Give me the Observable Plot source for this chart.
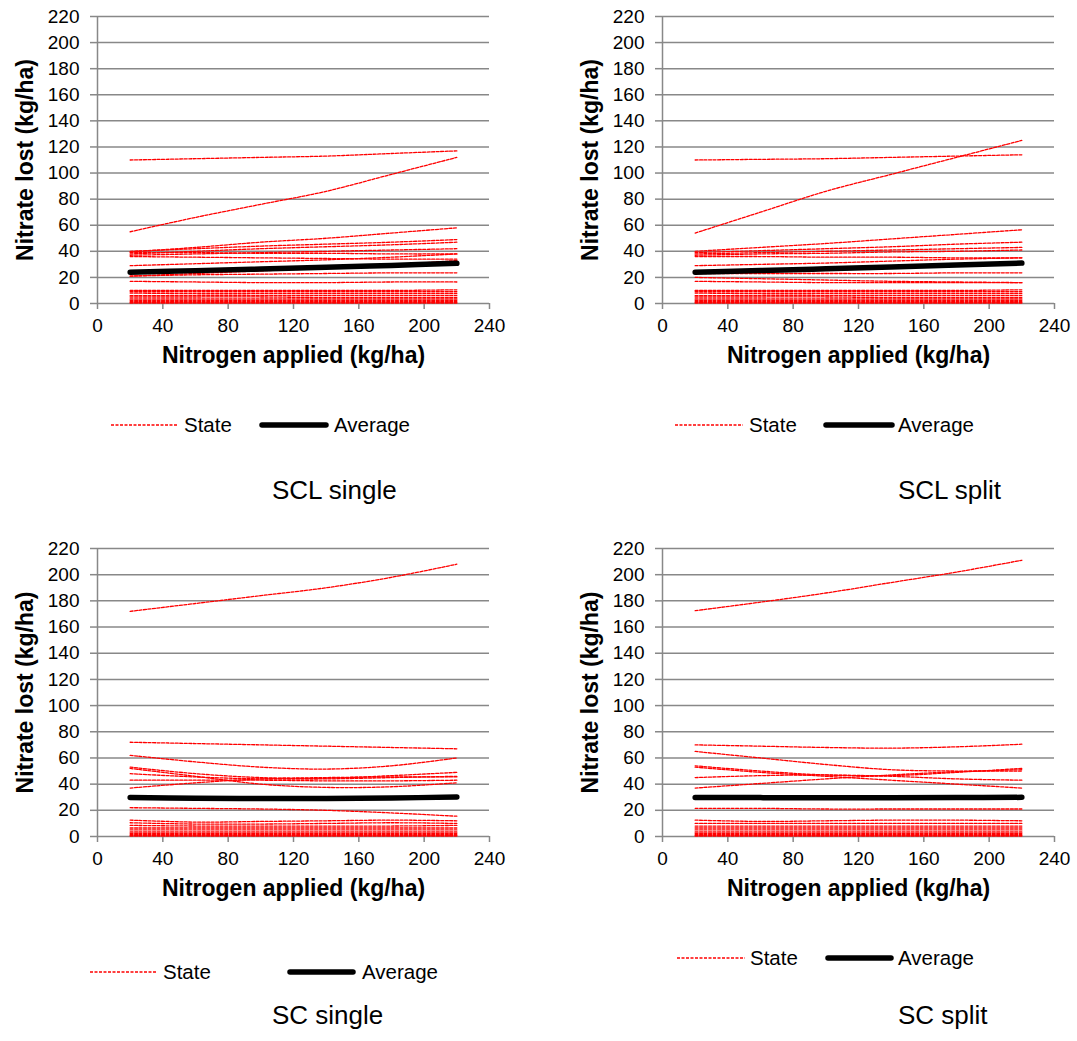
<!DOCTYPE html>
<html><head><meta charset="utf-8">
<script src="https://cdn.jsdelivr.net/npm/d3@7"></script>
<script src="https://cdn.jsdelivr.net/npm/@observablehq/plot@0.6"></script>
<style>
body{margin:0;background:#fff;font-family:"Liberation Sans",Arial,sans-serif;}
#root{position:relative;width:1077px;height:1041px;overflow:hidden;background:#fff}
.panel{position:absolute}
.leg{position:absolute;font-size:20.5px;color:#000;white-space:nowrap;line-height:1}
.title{position:absolute;font-size:26px;color:#000;white-space:nowrap;line-height:1}
.sw{position:absolute;overflow:visible}
</style></head><body><div id="root"></div>
<script>
// ---- data ----
const nitrogenApplied = [20, 60, 100, 140, 180, 220];
const xTicks = [0, 40, 80, 120, 160, 200, 240];
const yTicks = [0, 20, 40, 60, 80, 100, 120, 140, 160, 180, 200, 220];
const xLabel = "Nitrogen applied (kg/ha)";
const yLabel = "Nitrate lost (kg/ha)";
const legendLabels = ["State", "Average"];
const panelTitles = ["SCL single", "SCL split", "SC single", "SC split"];

const lowStates = [
  [10, 10, 10, 10, 10, 10.5],
  [9, 9, 9, 9, 9, 9],
  [8, 7.5, 7.5, 7.5, 7.5, 7.5],
  [6, 6, 6, 6, 6, 6],
  [5, 5, 5, 4.5, 4.5, 4.5],
  [3.5, 3.5, 3.5, 3.5, 3.5, 3.5],
  [2.5, 2.5, 2.5, 2.5, 2.5, 2.5],
  [1.5, 1.5, 1.5, 1.5, 1.5, 1.5],
  [0.8, 0.8, 0.8, 0.8, 0.8, 0.8],
  [0.3, 0.3, 0.3, 0.3, 0.3, 0.3]
];

const sclSingleStates = [
  [110, 111, 112, 113, 115, 117],
  [55, 66, 76, 86, 99, 112],
  [39.5, 43, 47, 50, 54, 58],
  [40, 42, 44, 45.5, 47, 49],
  [38, 40, 42, 43.5, 45, 47],
  [37, 38, 39, 40, 41, 42],
  [39, 39, 38.5, 38.5, 38, 38],
  [36, 35.5, 35, 34.5, 34, 34],
  [29, 30.5, 32, 33.5, 35.5, 38],
  [21, 23, 25, 27, 29.5, 33],
  [21, 22, 22.5, 23, 23.5, 23.5],
  [17, 16.5, 16, 16, 16.5, 16.5],
  ...lowStates
];
const sclSingleAverage = [24, 25.2, 26.4, 27.7, 29.2, 30.8];

const sclSplitStates = [
  [110, 110.5, 111, 112, 113, 114],
  [54, 70, 86, 99, 112, 125],
  [40, 43, 46, 49.5, 53, 56.5],
  [39, 40.5, 42, 43.5, 45.5, 47],
  [38, 39, 40, 41, 42, 43],
  [37, 38, 38.5, 39.5, 40, 41],
  [36, 36, 35.5, 35.5, 35, 35],
  [29, 30, 31, 32.5, 34, 35],
  [23, 23, 23, 23, 23.5, 23.5],
  [20, 19, 18, 17, 16.5, 16],
  [17, 16.5, 16, 16, 16, 16],
  ...lowStates
];
const sclSplitAverage = [24, 25.3, 26.6, 28, 29.5, 31];

const scSingleStates = [
  [172, 178, 184, 190, 198, 208],
  [72, 71, 70, 69, 68, 67],
  [62, 57, 53, 51.5, 54, 60],
  [53, 48, 45, 44.5, 46.5, 49],
  [48, 45.5, 44, 44, 45, 46],
  [52, 46, 40, 37.5, 38, 41],
  [37, 41, 44, 45, 45.5, 45.5],
  [43, 43, 43, 42.5, 42.5, 43],
  [22, 21.5, 21, 20, 18, 15.5],
  [12.5, 11, 11.5, 12, 12.5, 12],
  [10.5, 9.5, 9.5, 10, 10.5, 10],
  [8.5, 8, 8, 8, 8, 8.5],
  [6.5, 6.5, 6.5, 6.5, 6.5, 6.5],
  [5, 5, 5, 5, 5, 5],
  [3.5, 3.5, 3.5, 3.5, 3.5, 3.5],
  [2.5, 2.5, 2.5, 2.5, 2.5, 2.5],
  [1.5, 1.5, 1.5, 1.5, 1.5, 1.5],
  [0.8, 0.8, 0.8, 0.8, 0.8, 0.8],
  [0.3, 0.3, 0.3, 0.3, 0.3, 0.3]
];
const scSingleAverage = [29.8, 29.3, 29, 29, 29.4, 30.2];

const scSplitStates = [
  [172.5, 179, 186, 194, 202, 211],
  [70, 69, 68, 67.5, 68.5, 70.5],
  [65, 60, 55, 51, 50, 50],
  [54, 50, 47, 46.5, 49, 52],
  [53, 49, 46, 43, 40, 37],
  [45, 46.5, 47, 46, 44, 43],
  [37, 40.5, 44, 47, 49.5, 51],
  [21.5, 21.5, 21, 21, 21, 21],
  [12.5, 11.5, 12, 12.5, 12.5, 12],
  [10, 10, 10, 10, 10, 10],
  [8, 8, 8, 8, 8, 8],
  [6.5, 6.5, 6.5, 6.5, 6.5, 6.5],
  [5, 5, 5, 5, 5, 5],
  [3.5, 3.5, 3.5, 3.5, 3.5, 3.5],
  [2.5, 2.5, 2.5, 2.5, 2.5, 2.5],
  [1.5, 1.5, 1.5, 1.5, 1.5, 1.5],
  [0.8, 0.8, 0.8, 0.8, 0.8, 0.8],
  [0.3, 0.3, 0.3, 0.3, 0.3, 0.3]
];
const scSplitAverage = [29.8, 29.7, 29.6, 29.6, 29.7, 29.9];

// ---- helpers ----
const root = document.getElementById("root");
const FONT = '"Liberation Sans", Arial, sans-serif';
const GRID = "#888888";

function toRows(series) {
  const rows = [];
  series.forEach((s, i) => s.forEach((v, j) => rows.push({x: nitrogenApplied[j], y: v, id: i})));
  return rows;
}

function makePanel(states, average, left, top, mL, mT, mB, yDx) {
  const W = 520, H = 380;
  const avgRows = average.map((v, j) => ({x: nitrogenApplied[j], y: v}));
  const chart = Plot.plot({
    width: W, height: H,
    marginLeft: mL, marginRight: W - mL - 392, marginTop: mT, marginBottom: mB,
    style: {fontFamily: FONT, fontSize: "19px", color: "black", background: "transparent", overflow: "visible"},
    x: {domain: [0, 240]},
    y: {domain: [0, 220]},
    marks: [
      Plot.gridY(yTicks, {stroke: GRID, strokeOpacity: 1, strokeWidth: 1.5}),
      Plot.ruleX([0], {stroke: GRID, strokeWidth: 1.5}),
      Plot.axisY({ticks: yTicks, tickSize: 7, tickPadding: 11, stroke: GRID, strokeWidth: 1.5, fill: "black", label: null}),
      Plot.axisX({ticks: xTicks, tickSize: 6, tickPadding: 9, stroke: GRID, strokeWidth: 1.5, fill: "black", label: null}),
      Plot.line(toRows(states), {x: "x", y: "y", z: "id", stroke: "#ff0000", strokeWidth: 1.3, strokeDasharray: "3,1.5", curve: "catmull-rom"}),
      Plot.line(avgRows, {x: "x", y: "y", stroke: "black", strokeWidth: 5.5, strokeLinecap: "round", curve: "catmull-rom"}),
      Plot.text([xLabel], {text: d => d, frameAnchor: "bottom", dy: 59, fontSize: 23, fontWeight: "bold", fill: "black"}),
      Plot.text([yLabel], {text: d => d, frameAnchor: "left", textAnchor: "middle", dx: yDx, rotate: -90, fontSize: 23, fontWeight: "bold", fill: "black"})
    ]
  });
  chart.classList.add("panel");
  chart.style.left = left + "px";
  chart.style.top = top + "px";
  root.appendChild(chart);
}

function swatch(x1, x2, y, dashed) {
  const ns = "http://www.w3.org/2000/svg";
  const svg = document.createElementNS(ns, "svg");
  svg.setAttribute("class", "sw");
  svg.setAttribute("width", x2 - x1 + 10);
  svg.setAttribute("height", 12);
  svg.style.left = (x1 - 5) + "px";
  svg.style.top = (y - 6) + "px";
  const l = document.createElementNS(ns, "line");
  l.setAttribute("x1", 5); l.setAttribute("x2", x2 - x1 + 5);
  l.setAttribute("y1", 6); l.setAttribute("y2", 6);
  if (dashed) {
    l.setAttribute("stroke", "#ff0000"); l.setAttribute("stroke-width", 1.3);
    l.setAttribute("stroke-dasharray", "3,1.5");
  } else {
    l.setAttribute("stroke", "black"); l.setAttribute("stroke-width", 5.5);
    l.setAttribute("stroke-linecap", "round");
  }
  svg.appendChild(l);
  root.appendChild(svg);
}
function label(cls, txt, x, y, fs) {
  const d = document.createElement("div");
  d.className = cls;
  d.textContent = txt;
  d.style.left = x + "px";
  d.style.top = (y - 0.49 * fs) + "px";
  root.appendChild(d);
}
function legend(d1, d2, sx, a1, a2, ax, y) {
  swatch(d1, d2, y, true);
  label("leg", legendLabels[0], sx, y, 20.5);
  swatch(a1, a2, y, false);
  label("leg", legendLabels[1], ax, y, 20.5);
}

makePanel(sclSingleStates, sclSingleAverage, 0, 0, 97, 16, 77, -72);
makePanel(sclSplitStates, sclSplitAverage, 560, 0, 102, 16, 77, -72);
makePanel(scSingleStates, scSingleAverage, 0, 530, 97, 18, 74, -72);
makePanel(scSplitStates, scSplitAverage, 560, 530, 102, 18, 74, -72);

legend(111, 177, 184, 262, 326, 334, 425);
legend(675, 743, 749, 826, 892, 898, 425);
legend(90, 157, 163, 290, 353, 362, 972);
legend(677, 745, 750, 828, 891, 898, 958);

label("title", panelTitles[0], 272, 490, 26);
label("title", panelTitles[1], 898, 490, 26);
label("title", panelTitles[2], 272, 1015, 26);
label("title", panelTitles[3], 898, 1015, 26);
</script></body></html>
